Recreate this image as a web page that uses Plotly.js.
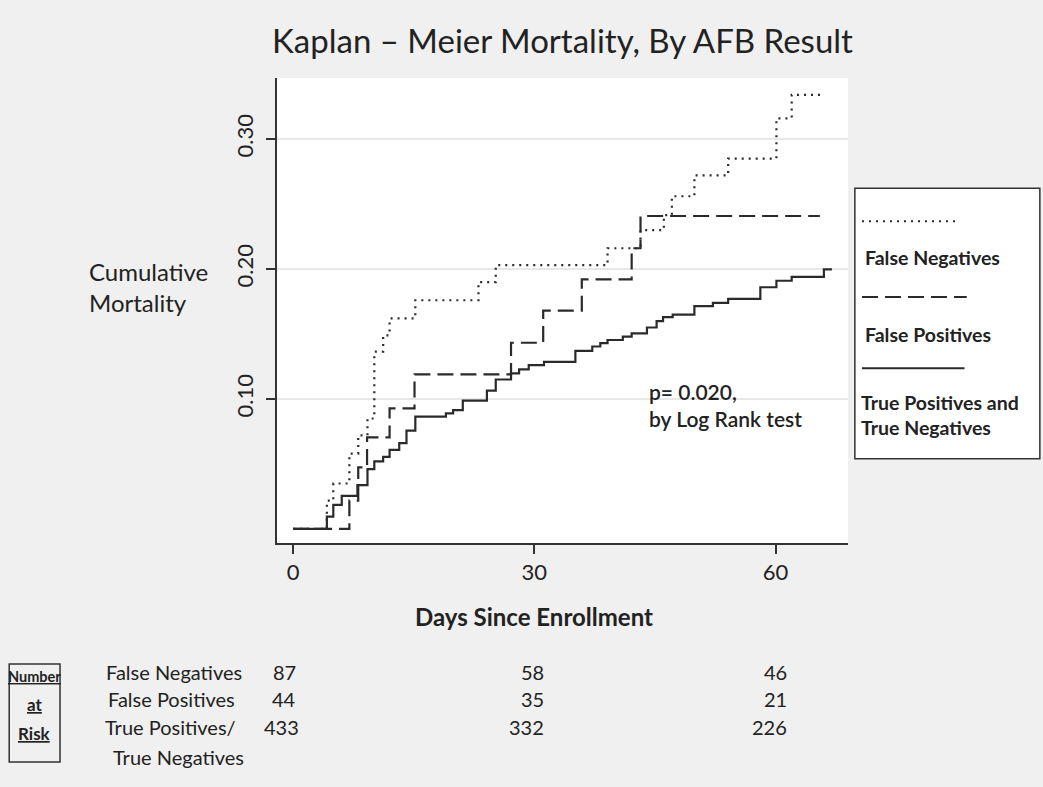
<!DOCTYPE html>
<html>
<head>
<meta charset="utf-8">
<script src="https://cdn.plot.ly/plotly-3.0.1.min.js"></script>
<style>html,body{margin:0;padding:0;background:#f0f0f0;}#chart{width:1043px;height:787px;}</style>
</head>
<body>
<div id="chart"></div>
<script>
// ---- Data ----
const fnDays = [0, 4.2, 5.0, 7.0, 8.1, 9.25, 10.1, 11.2, 12.0, 15.2, 23.05, 25.2, 39.1, 43.2, 46.1, 47.1, 49.9, 54.1, 60.1, 62.0, 66.0];
const fnCum  = [0, 0.0218, 0.035, 0.058, 0.072, 0.085, 0.1364, 0.149, 0.162, 0.176, 0.190, 0.203, 0.216, 0.230, 0.2415, 0.256, 0.272, 0.285, 0.316, 0.334, 0.334];

const fpDays = [0, 7.0, 8.1, 9.2, 12.0, 15.1, 27.1, 31.1, 35.9, 42.1, 43.2, 65.5];
const fpCum  = [0, 0.0218, 0.0474, 0.0705, 0.0928, 0.119, 0.1433, 0.168, 0.192, 0.216, 0.2408, 0.2408];

const tpDays = [0, 4.2, 5.0, 6.05, 8.0, 9.25, 10.1, 11.2, 12.0, 13.2, 14.1, 15.2, 19.0, 19.9, 21.1, 24.1, 25.2, 27.1, 28.1, 29.3, 31.2, 35.1, 37.2, 38.2, 39.1, 41.0, 42.1, 44.0, 45.2, 46.0, 47.2, 49.9, 52.2, 54.1, 58.1, 60.1, 62.0, 66.0, 67.0];
const tpCum  = [0, 0.0095, 0.0185, 0.0254, 0.0338, 0.046, 0.052, 0.0555, 0.0608, 0.066, 0.0756, 0.0864, 0.089, 0.0915, 0.0987, 0.1064, 0.115, 0.1197, 0.1228, 0.126, 0.1285, 0.137, 0.1404, 0.143, 0.1454, 0.148, 0.1505, 0.155, 0.160, 0.163, 0.165, 0.1715, 0.174, 0.177, 0.186, 0.191, 0.194, 0.1998, 0.1998];

const xTicks = [0, 30, 60];
const yTicks = [0.10, 0.20, 0.30];
const yTickText = ['0.10', '0.20', '0.30'];

const riskDays = [0, 30, 60];
const riskFN = [87, 58, 46];
const riskFP = [44, 35, 21];
const riskTP = [433, 332, 226];
const riskRowLabels = ['False Negatives', 'False Positives', 'True Positives/', 'True Negatives'];
const legendLabels = ['False Negatives', 'False Positives', 'True Positives and<br>True Negatives'];

// ---- Chart ----
const FONT = 'Lato, "Open Sans", sans-serif';
const INK = '#222';
const lineCol = '#2a2a2a';
const DOT = '2px,5px';
const DASH = '16px,7px';

const traces = [
  {x: fnDays, y: fnCum, mode: 'lines', line: {shape: 'hv', color: lineCol, width: 2.2, dash: DOT}, name: 'False Negatives', hoverinfo: 'x+y'},
  {x: fpDays, y: fpCum, mode: 'lines', line: {shape: 'hv', color: lineCol, width: 2.2, dash: DASH}, name: 'False Positives', hoverinfo: 'x+y'},
  {x: tpDays, y: tpCum, mode: 'lines', line: {shape: 'hv', color: lineCol, width: 2.2}, name: 'True Positives and True Negatives', hoverinfo: 'x+y'}
];

const ann = [];
const shapes = [];

// y-axis title (horizontal)
ann.push({xref: 'paper', yref: 'paper', x: -0.333, y: 0.55, xanchor: 'left', yanchor: 'middle', align: 'left',
  text: 'Cumulative<br>Mortality', showarrow: false, font: {family: FONT, size: 24, color: INK}});
// x-axis title
ann.push({xref: 'x', yref: 'paper', x: 30, y: -0.159, xanchor: 'center', yanchor: 'middle',
  text: '<b>Days Since Enrollment</b>', showarrow: false, font: {family: FONT, size: 24, color: INK}});
// p-value
ann.push({xref: 'paper', yref: 'paper', x: 0.648, y: 0.296, xanchor: 'left', yanchor: 'middle', align: 'left',
  text: 'p= 0.020,<br>by Log Rank test', showarrow: false, font: {family: FONT, size: 21, color: INK, weight: 600}});

// Legend box
shapes.push({type: 'rect', xref: 'paper', yref: 'paper', x0: 1.012, x1: 1.336, y0: 0.181, y1: 0.763,
  line: {color: '#333', width: 1.5}, fillcolor: 'white'});
const legDash = [DOT, DASH, 'solid'];
const legLineY = [0.692, 0.529, 0.376];
const legLineX1 = [1.196, 1.208, 1.204];
const legTextY = [0.615, 0.449, 0.275];
for (let i = 0; i < 3; i++) {
  shapes.push({type: 'line', xref: 'paper', yref: 'paper', x0: 1.0245, x1: legLineX1[i], y0: legLineY[i], y1: legLineY[i],
    line: {color: lineCol, width: 2, dash: legDash[i]}});
  ann.push({xref: 'paper', yref: 'paper', x: i === 2 ? 1.020 : 1.026, y: legTextY[i], xanchor: 'left', yanchor: 'middle', align: 'left',
    text: '<b>' + legendLabels[i] + '</b>', showarrow: false, font: {family: FONT, size: 19.5, color: INK}});
}

// Number at risk table
shapes.push({type: 'rect', xref: 'paper', yref: 'paper', x0: -0.469, x1: -0.380, y0: -0.471, y1: -0.260,
  line: {color: '#333', width: 1.5}});
const narWords = ['<b><u>Number</u></b>', '<b><u>at</u></b>', '<b><u>Risk</u></b>'];
const narY = [-0.288, -0.348, -0.409];
for (let i = 0; i < 3; i++) {
  ann.push({xref: 'paper', yref: 'paper', x: -0.4245, y: narY[i], xanchor: 'center', yanchor: 'middle',
    text: narWords[i], showarrow: false, font: {family: FONT, size: i === 0 ? 14.5 : 17, color: INK}});
}
const rowY = [-0.277, -0.335, -0.396, -0.460];
const rowX = [-0.303, -0.300, -0.305, -0.291];
for (let i = 0; i < 4; i++) {
  ann.push({xref: 'paper', yref: 'paper', x: rowX[i], y: rowY[i], xanchor: 'left', yanchor: 'middle',
    text: riskRowLabels[i], showarrow: false, font: {family: FONT, size: 20, color: INK}});
}
const riskRows = [riskFN, riskFP, riskTP];
const shiftX = [5, 12, 13];
for (let r = 0; r < 3; r++) {
  for (let j = 0; j < riskDays.length; j++) {
    ann.push({xref: 'x', yref: 'paper', x: riskDays[j], xshift: shiftX[j] + (r === 2 && j === 0 ? 3 : 0), y: rowY[r], xanchor: 'right', yanchor: 'middle',
      text: String(riskRows[r][j]), showarrow: false, font: {family: FONT, size: 20, color: INK}});
  }
}

const layout = {
  width: 1043, height: 787,
  margin: {l: 277, r: 195, t: 78, b: 244, pad: 0},
  paper_bgcolor: '#f0f0f0',
  plot_bgcolor: 'white',
  showlegend: false,
  title: {text: 'Kaplan – Meier Mortality, By AFB Result', xref: 'paper', x: 0.5, xanchor: 'center', y: 0.947, yanchor: 'middle',
    font: {family: FONT, size: 33, color: INK}},
  xaxis: {range: [-2.0, 69.0], tickvals: xTicks, ticktext: xTicks.map(String), ticks: 'outside', ticklen: 9, tickwidth: 1.5, tickcolor: '#333',
    showline: true, linecolor: '#333', linewidth: 2, showgrid: false, zeroline: false,
    tickfont: {family: FONT, size: 22, color: INK}},
  yaxis: {range: [-0.0108, 0.347], tickvals: yTicks, ticktext: yTickText, tickangle: -90, ticks: 'outside', ticklen: 9, tickwidth: 1.5, tickcolor: '#333',
    ticklabelstandoff: 4,
    showline: true, linecolor: '#333', linewidth: 2, showgrid: true, gridcolor: '#e8e8e8', gridwidth: 2, zeroline: false,
    tickfont: {family: FONT, size: 22, color: INK}},
  annotations: ann,
  shapes: shapes
};

Plotly.newPlot('chart', traces, layout, {displayModeBar: false, staticPlot: false});
</script>
</body>
</html>
